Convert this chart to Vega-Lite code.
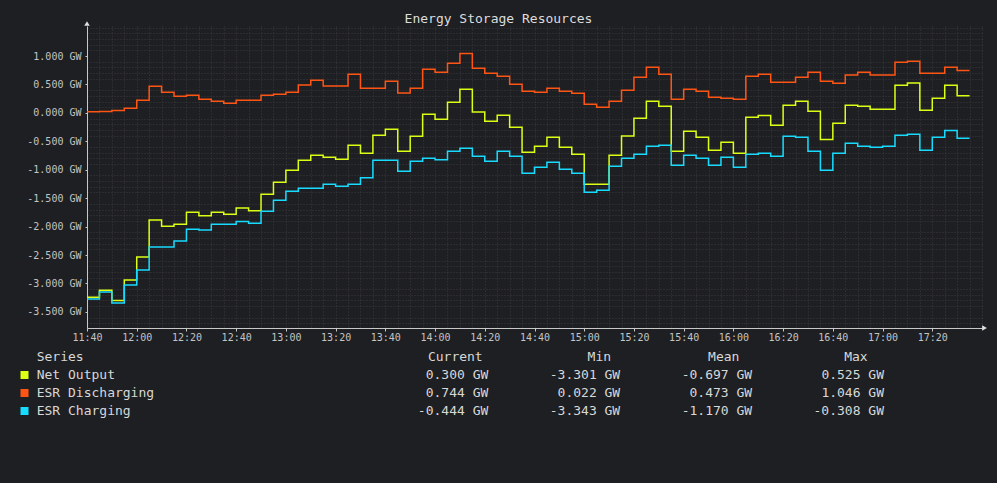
{
  "$schema": "https://vega.github.io/schema/vega-lite/v6.json",
  "autosize": "none",
  "width": 895,
  "height": 302,
  "padding": {"left": 87, "top": 26, "right": 15, "bottom": 155},
  "background": "#1e1f22",
  "title": {
    "text": "Energy Storage Resources",
    "font": "DejaVu Sans Mono",
    "fontSize": 13,
    "fontWeight": "normal",
    "color": "#dddddd",
    "dx": -36,
    "offset": -5
  },
  "config": {
    "view": {"stroke": null},
    "locale": {
      "number": {"decimal": ".", "thousands": ",", "grouping": [3], "currency": ["", " GW"], "minus": "-"}
    }
  },
  "datasets": {
    "ts": [
      {"t": "2024-01-01T11:40:00", "Net Output": -3.245, "ESR Discharging": 0.022, "ESR Charging": -3.275},
      {"t": "2024-01-01T11:45:00", "Net Output": -3.118, "ESR Discharging": 0.024, "ESR Charging": -3.152},
      {"t": "2024-01-01T11:50:00", "Net Output": -3.301, "ESR Discharging": 0.042, "ESR Charging": -3.343},
      {"t": "2024-01-01T11:55:00", "Net Output": -2.941, "ESR Discharging": 0.082, "ESR Charging": -3.029},
      {"t": "2024-01-01T12:00:00", "Net Output": -2.537, "ESR Discharging": 0.223, "ESR Charging": -2.765},
      {"t": "2024-01-01T12:05:00", "Net Output": -1.886, "ESR Discharging": 0.469, "ESR Charging": -2.361},
      {"t": "2024-01-01T12:10:00", "Net Output": -1.992, "ESR Discharging": 0.363, "ESR Charging": -2.361},
      {"t": "2024-01-01T12:15:00", "Net Output": -1.957, "ESR Discharging": 0.293, "ESR Charging": -2.255},
      {"t": "2024-01-01T12:20:00", "Net Output": -1.746, "ESR Discharging": 0.31, "ESR Charging": -2.045},
      {"t": "2024-01-01T12:25:00", "Net Output": -1.81, "ESR Discharging": 0.24, "ESR Charging": -2.062},
      {"t": "2024-01-01T12:30:00", "Net Output": -1.746, "ESR Discharging": 0.205, "ESR Charging": -1.957},
      {"t": "2024-01-01T12:35:00", "Net Output": -1.781, "ESR Discharging": 0.17, "ESR Charging": -1.957},
      {"t": "2024-01-01T12:40:00", "Net Output": -1.675, "ESR Discharging": 0.223, "ESR Charging": -1.91},
      {"t": "2024-01-01T12:45:00", "Net Output": -1.722, "ESR Discharging": 0.223, "ESR Charging": -1.939},
      {"t": "2024-01-01T12:50:00", "Net Output": -1.429, "ESR Discharging": 0.31, "ESR Charging": -1.728},
      {"t": "2024-01-01T12:55:00", "Net Output": -1.219, "ESR Discharging": 0.328, "ESR Charging": -1.535},
      {"t": "2024-01-01T13:00:00", "Net Output": -1.008, "ESR Discharging": 0.363, "ESR Charging": -1.377},
      {"t": "2024-01-01T13:05:00", "Net Output": -0.832, "ESR Discharging": 0.492, "ESR Charging": -1.324},
      {"t": "2024-01-01T13:10:00", "Net Output": -0.744, "ESR Discharging": 0.574, "ESR Charging": -1.324},
      {"t": "2024-01-01T13:15:00", "Net Output": -0.779, "ESR Discharging": 0.475, "ESR Charging": -1.254},
      {"t": "2024-01-01T13:20:00", "Net Output": -0.814, "ESR Discharging": 0.475, "ESR Charging": -1.289},
      {"t": "2024-01-01T13:25:00", "Net Output": -0.568, "ESR Discharging": 0.68, "ESR Charging": -1.254},
      {"t": "2024-01-01T13:30:00", "Net Output": -0.709, "ESR Discharging": 0.434, "ESR Charging": -1.142},
      {"t": "2024-01-01T13:35:00", "Net Output": -0.393, "ESR Discharging": 0.434, "ESR Charging": -0.832},
      {"t": "2024-01-01T13:40:00", "Net Output": -0.287, "ESR Discharging": 0.557, "ESR Charging": -0.832},
      {"t": "2024-01-01T13:45:00", "Net Output": -0.674, "ESR Discharging": 0.351, "ESR Charging": -1.025},
      {"t": "2024-01-01T13:50:00", "Net Output": -0.41, "ESR Discharging": 0.434, "ESR Charging": -0.849},
      {"t": "2024-01-01T13:55:00", "Net Output": -0.023, "ESR Discharging": 0.767, "ESR Charging": -0.797},
      {"t": "2024-01-01T14:00:00", "Net Output": -0.111, "ESR Discharging": 0.715, "ESR Charging": -0.826},
      {"t": "2024-01-01T14:05:00", "Net Output": 0.187, "ESR Discharging": 0.873, "ESR Charging": -0.674},
      {"t": "2024-01-01T14:10:00", "Net Output": 0.416, "ESR Discharging": 1.046, "ESR Charging": -0.621},
      {"t": "2024-01-01T14:15:00", "Net Output": 0.018, "ESR Discharging": 0.785, "ESR Charging": -0.762},
      {"t": "2024-01-01T14:20:00", "Net Output": -0.146, "ESR Discharging": 0.697, "ESR Charging": -0.849},
      {"t": "2024-01-01T14:25:00", "Net Output": -0.041, "ESR Discharging": 0.644, "ESR Charging": -0.674},
      {"t": "2024-01-01T14:30:00", "Net Output": -0.252, "ESR Discharging": 0.504, "ESR Charging": -0.762},
      {"t": "2024-01-01T14:35:00", "Net Output": -0.691, "ESR Discharging": 0.381, "ESR Charging": -1.06},
      {"t": "2024-01-01T14:40:00", "Net Output": -0.586, "ESR Discharging": 0.363, "ESR Charging": -0.955},
      {"t": "2024-01-01T14:45:00", "Net Output": -0.428, "ESR Discharging": 0.434, "ESR Charging": -0.867},
      {"t": "2024-01-01T14:50:00", "Net Output": -0.603, "ESR Discharging": 0.381, "ESR Charging": -0.99},
      {"t": "2024-01-01T14:55:00", "Net Output": -0.726, "ESR Discharging": 0.346, "ESR Charging": -1.06},
      {"t": "2024-01-01T15:00:00", "Net Output": -1.254, "ESR Discharging": 0.152, "ESR Charging": -1.394},
      {"t": "2024-01-01T15:05:00", "Net Output": -1.254, "ESR Discharging": 0.1, "ESR Charging": -1.359},
      {"t": "2024-01-01T15:10:00", "Net Output": -0.744, "ESR Discharging": 0.205, "ESR Charging": -0.937},
      {"t": "2024-01-01T15:15:00", "Net Output": -0.404, "ESR Discharging": 0.398, "ESR Charging": -0.797},
      {"t": "2024-01-01T15:20:00", "Net Output": -0.094, "ESR Discharging": 0.627, "ESR Charging": -0.726},
      {"t": "2024-01-01T15:25:00", "Net Output": 0.205, "ESR Discharging": 0.803, "ESR Charging": -0.586},
      {"t": "2024-01-01T15:30:00", "Net Output": 0.117, "ESR Discharging": 0.68, "ESR Charging": -0.568},
      {"t": "2024-01-01T15:35:00", "Net Output": -0.674, "ESR Discharging": 0.24, "ESR Charging": -0.92},
      {"t": "2024-01-01T15:40:00", "Net Output": -0.322, "ESR Discharging": 0.416, "ESR Charging": -0.744},
      {"t": "2024-01-01T15:45:00", "Net Output": -0.428, "ESR Discharging": 0.381, "ESR Charging": -0.797},
      {"t": "2024-01-01T15:50:00", "Net Output": -0.656, "ESR Discharging": 0.275, "ESR Charging": -0.92},
      {"t": "2024-01-01T15:55:00", "Net Output": -0.516, "ESR Discharging": 0.258, "ESR Charging": -0.779},
      {"t": "2024-01-01T16:00:00", "Net Output": -0.709, "ESR Discharging": 0.24, "ESR Charging": -0.955},
      {"t": "2024-01-01T16:05:00", "Net Output": -0.076, "ESR Discharging": 0.644, "ESR Charging": -0.726},
      {"t": "2024-01-01T16:10:00", "Net Output": -0.047, "ESR Discharging": 0.68, "ESR Charging": -0.709},
      {"t": "2024-01-01T16:15:00", "Net Output": -0.217, "ESR Discharging": 0.539, "ESR Charging": -0.762},
      {"t": "2024-01-01T16:20:00", "Net Output": 0.135, "ESR Discharging": 0.539, "ESR Charging": -0.41},
      {"t": "2024-01-01T16:25:00", "Net Output": 0.205, "ESR Discharging": 0.627, "ESR Charging": -0.428},
      {"t": "2024-01-01T16:30:00", "Net Output": 0.029, "ESR Discharging": 0.715, "ESR Charging": -0.674},
      {"t": "2024-01-01T16:35:00", "Net Output": -0.468, "ESR Discharging": 0.557, "ESR Charging": -1.008},
      {"t": "2024-01-01T16:40:00", "Net Output": -0.182, "ESR Discharging": 0.521, "ESR Charging": -0.709},
      {"t": "2024-01-01T16:45:00", "Net Output": 0.135, "ESR Discharging": 0.668, "ESR Charging": -0.533},
      {"t": "2024-01-01T16:50:00", "Net Output": 0.117, "ESR Discharging": 0.715, "ESR Charging": -0.586},
      {"t": "2024-01-01T16:55:00", "Net Output": 0.064, "ESR Discharging": 0.668, "ESR Charging": -0.603},
      {"t": "2024-01-01T17:00:00", "Net Output": 0.064, "ESR Discharging": 0.668, "ESR Charging": -0.586},
      {"t": "2024-01-01T17:05:00", "Net Output": 0.486, "ESR Discharging": 0.89, "ESR Charging": -0.393},
      {"t": "2024-01-01T17:10:00", "Net Output": 0.525, "ESR Discharging": 0.908, "ESR Charging": -0.375},
      {"t": "2024-01-01T17:15:00", "Net Output": 0.047, "ESR Discharging": 0.697, "ESR Charging": -0.656},
      {"t": "2024-01-01T17:20:00", "Net Output": 0.258, "ESR Discharging": 0.697, "ESR Charging": -0.428},
      {"t": "2024-01-01T17:25:00", "Net Output": 0.486, "ESR Discharging": 0.803, "ESR Charging": -0.308},
      {"t": "2024-01-01T17:30:00", "Net Output": 0.3, "ESR Discharging": 0.744, "ESR Charging": -0.444},
      {"t": "2024-01-01T17:35:00", "Net Output": 0.3, "ESR Discharging": 0.744, "ESR Charging": -0.444}
    ],
    "stats": [
      {"Series": "Net Output", "Current": "0.300 GW", "Min": "-3.301 GW", "Mean": "-0.697 GW", "Max": "0.525 GW"},
      {"Series": "ESR Discharging", "Current": "0.744 GW", "Min": "0.022 GW", "Mean": "0.473 GW", "Max": "1.046 GW"},
      {"Series": "ESR Charging", "Current": "-0.444 GW", "Min": "-3.343 GW", "Mean": "-1.170 GW", "Max": "-0.308 GW"}
    ]
  },
  "layer": [
    {
      "data": {"name": "ts"},
      "mark": {"type": "line", "opacity": 0},
      "encoding": {
        "x": {
          "field": "t",
          "type": "temporal",
          "scale": {
            "domain": [
              {"year": 2024, "month": 1, "date": 1, "hours": 11, "minutes": 40},
              {"year": 2024, "month": 1, "date": 1, "hours": 17, "minutes": 40}
            ],
            "nice": false
          },
          "axis": {
            "orient": "bottom",
            "title": null,
            "tickCount": 72,
            "labels": false,
            "ticks": false,
            "domain": false,
            "grid": true,
            "gridColor": "#3a3b3e",
            "gridDash": [1, 2]
          }
        },
        "y": {
          "field": "Net Output",
          "type": "quantitative",
          "scale": {"domain": [-3.784, 1.529], "nice": false, "zero": false},
          "axis": {
            "orient": "left",
            "title": null,
            "values": [-3.7, -3.6, -3.4, -3.3, -3.2, -3.1, -2.9, -2.8, -2.7, -2.6, -2.4, -2.3, -2.2, -2.1, -1.9, -1.8, -1.7, -1.6, -1.4, -1.3, -1.2, -1.1, -0.9, -0.8, -0.7, -0.6, -0.4, -0.3, -0.2, -0.1, 0.1, 0.2, 0.3, 0.4, 0.6, 0.7, 0.8, 0.9, 1.1, 1.2, 1.3, 1.4, 1.5],
            "labels": false,
            "ticks": false,
            "domain": false,
            "grid": true,
            "gridColor": "#3a3b3e",
            "gridDash": [1, 2]
          }
        }
      }
    },
    {
      "data": {"name": "ts"},
      "transform": [
        {"fold": ["Net Output", "ESR Discharging", "ESR Charging"], "as": ["series", "value"]}
      ],
      "mark": {"type": "line", "interpolate": "step-after", "strokeWidth": 1.5},
      "encoding": {
        "x": {
          "field": "t",
          "type": "temporal",
          "scale": {
            "domain": [
              {"year": 2024, "month": 1, "date": 1, "hours": 11, "minutes": 40},
              {"year": 2024, "month": 1, "date": 1, "hours": 17, "minutes": 40}
            ],
            "nice": false
          },
          "axis": {
            "orient": "bottom",
            "title": null,
            "values": [
              {"year": 2024, "month": 1, "date": 1, "hours": 11, "minutes": 40},
              {"year": 2024, "month": 1, "date": 1, "hours": 12, "minutes": 0},
              {"year": 2024, "month": 1, "date": 1, "hours": 12, "minutes": 20},
              {"year": 2024, "month": 1, "date": 1, "hours": 12, "minutes": 40},
              {"year": 2024, "month": 1, "date": 1, "hours": 13, "minutes": 0},
              {"year": 2024, "month": 1, "date": 1, "hours": 13, "minutes": 20},
              {"year": 2024, "month": 1, "date": 1, "hours": 13, "minutes": 40},
              {"year": 2024, "month": 1, "date": 1, "hours": 14, "minutes": 0},
              {"year": 2024, "month": 1, "date": 1, "hours": 14, "minutes": 20},
              {"year": 2024, "month": 1, "date": 1, "hours": 14, "minutes": 40},
              {"year": 2024, "month": 1, "date": 1, "hours": 15, "minutes": 0},
              {"year": 2024, "month": 1, "date": 1, "hours": 15, "minutes": 20},
              {"year": 2024, "month": 1, "date": 1, "hours": 15, "minutes": 40},
              {"year": 2024, "month": 1, "date": 1, "hours": 16, "minutes": 0},
              {"year": 2024, "month": 1, "date": 1, "hours": 16, "minutes": 20},
              {"year": 2024, "month": 1, "date": 1, "hours": 16, "minutes": 40},
              {"year": 2024, "month": 1, "date": 1, "hours": 17, "minutes": 0},
              {"year": 2024, "month": 1, "date": 1, "hours": 17, "minutes": 20}
            ],
            "format": "%H:%M",
            "labelOverlap": false,
            "labelFlush": false,
            "labelFont": "DejaVu Sans Mono",
            "labelFontSize": 10,
            "labelColor": "#c4c4c4",
            "labelPadding": 1,
            "domainColor": "#c8c8c8",
            "tickColor": "#c8c8c8",
            "tickSize": 3,
            "gridColor": "#5c5c5c",
            "gridDash": [1, 2]
          }
        },
        "y": {
          "field": "value",
          "type": "quantitative",
          "scale": {"domain": [-3.784, 1.529], "nice": false, "zero": false},
          "axis": {
            "orient": "left",
            "title": null,
            "values": [-3.5, -3, -2.5, -2, -1.5, -1, -0.5, 0, 0.5, 1],
            "format": "$.3f",
            "labelOverlap": false,
            "labelFont": "DejaVu Sans Mono",
            "labelFontSize": 10,
            "labelColor": "#c4c4c4",
            "labelPadding": 4,
            "domainColor": "#c8c8c8",
            "tickColor": "#c8c8c8",
            "tickSize": 2,
            "gridColor": "#5c5c5c",
            "gridDash": [1, 2]
          }
        },
        "color": {
          "field": "series",
          "type": "nominal",
          "scale": {"domain": ["Net Output", "ESR Discharging", "ESR Charging"], "range": ["#dcff14", "#ff5514", "#18dcff"]},
          "legend": null
        }
      }
    },
    {
      "data": {"values": [{"a": "y"}]},
      "mark": {"type": "point", "shape": "triangle-up", "filled": true, "size": 30, "color": "#e0e0e0", "opacity": 1},
      "encoding": {
        "x": {
          "datum": {"year": 2024, "month": 1, "date": 1, "hours": 11, "minutes": 40},
          "type": "temporal",
          "scale": {
            "domain": [
              {"year": 2024, "month": 1, "date": 1, "hours": 11, "minutes": 40},
              {"year": 2024, "month": 1, "date": 1, "hours": 17, "minutes": 40}
            ],
            "nice": false
          },
          "axis": null
        },
        "y": {"datum": 1.573, "type": "quantitative", "scale": {"domain": [-3.784, 1.529], "nice": false, "zero": false}, "axis": null}
      }
    },
    {
      "data": {"values": [{"a": "x"}]},
      "mark": {"type": "point", "shape": "triangle-right", "filled": true, "size": 30, "color": "#e0e0e0", "opacity": 1},
      "encoding": {
        "x": {
          "datum": {"year": 2024, "month": 1, "date": 1, "hours": 17, "minutes": 41},
          "type": "temporal",
          "scale": {
            "domain": [
              {"year": 2024, "month": 1, "date": 1, "hours": 11, "minutes": 40},
              {"year": 2024, "month": 1, "date": 1, "hours": 17, "minutes": 40}
            ],
            "nice": false
          },
          "axis": null
        },
        "y": {"datum": -3.784, "type": "quantitative", "scale": {"domain": [-3.784, 1.529], "nice": false, "zero": false}, "axis": null}
      }
    },
    {
      "data": {"values": [{"h": "Series"}]},
      "mark": {"type": "text", "align": "left", "baseline": "middle", "font": "DejaVu Sans Mono", "fontSize": 13, "color": "#d8d8d8"},
      "encoding": {
        "text": {"field": "h", "type": "nominal"},
        "x": {"datum": 0, "type": "quantitative", "scale": {"domain": [0, 1], "range": [-50.3, 100]}, "axis": null},
        "y": {"datum": 0, "type": "quantitative", "scale": {"domain": [0, 1], "range": [331, 400]}, "axis": null}
      }
    },
    {
      "data": {"name": "stats"},
      "mark": {"type": "text", "align": "left", "baseline": "middle", "font": "DejaVu Sans Mono", "fontSize": 13, "color": "#d8d8d8"},
      "encoding": {
        "text": {"field": "Series", "type": "nominal"},
        "x": {"datum": 0, "type": "quantitative", "scale": {"domain": [0, 1], "range": [-50.3, 100]}, "axis": null},
        "y": {"field": "Series", "type": "nominal", "sort": null, "scale": {"type": "point", "domain": ["Net Output", "ESR Discharging", "ESR Charging"], "range": [349, 385], "padding": 0}, "axis": null}
      }
    },
    {
      "data": {"name": "stats"},
      "mark": {"type": "square", "filled": true, "size": 64, "opacity": 1},
      "encoding": {
        "x": {"datum": 0, "type": "quantitative", "scale": {"domain": [0, 1], "range": [-62.5, 100]}, "axis": null},
        "y": {"field": "Series", "type": "nominal", "sort": null, "scale": {"type": "point", "domain": ["Net Output", "ESR Discharging", "ESR Charging"], "range": [349, 385], "padding": 0}, "axis": null},
        "color": {
          "field": "Series",
          "type": "nominal",
          "scale": {"domain": ["Net Output", "ESR Discharging", "ESR Charging"], "range": ["#dcff14", "#ff5514", "#18dcff"]},
          "legend": null
        }
      }
    },
    {
      "data": {"values": [{"h": "Current"}, {"h": "Min"}, {"h": "Mean"}, {"h": "Max"}]},
      "mark": {"type": "text", "align": "right", "baseline": "middle", "font": "DejaVu Sans Mono", "fontSize": 13, "color": "#d8d8d8"},
      "encoding": {
        "text": {"field": "h", "type": "nominal"},
        "x": {"field": "h", "type": "nominal", "sort": null, "scale": {"type": "point", "domain": ["Current", "Min", "Mean", "Max"], "range": [395.7, 780.7], "padding": 0}, "axis": null},
        "y": {"datum": 0, "type": "quantitative", "scale": {"domain": [0, 1], "range": [331, 400]}, "axis": null}
      }
    },
    {
      "data": {"name": "stats"},
      "transform": [{"fold": ["Current", "Min", "Mean", "Max"], "as": ["col", "val"]}],
      "mark": {"type": "text", "align": "right", "baseline": "middle", "font": "DejaVu Sans Mono", "fontSize": 13, "color": "#d8d8d8"},
      "encoding": {
        "text": {"field": "val", "type": "nominal"},
        "x": {"field": "col", "type": "nominal", "sort": null, "scale": {"type": "point", "domain": ["Current", "Min", "Mean", "Max"], "range": [401.3, 797], "padding": 0}, "axis": null},
        "y": {"field": "Series", "type": "nominal", "sort": null, "scale": {"type": "point", "domain": ["Net Output", "ESR Discharging", "ESR Charging"], "range": [349, 385], "padding": 0}, "axis": null}
      }
    }
  ],
  "resolve": {"scale": {"x": "independent", "y": "independent"}}
}
